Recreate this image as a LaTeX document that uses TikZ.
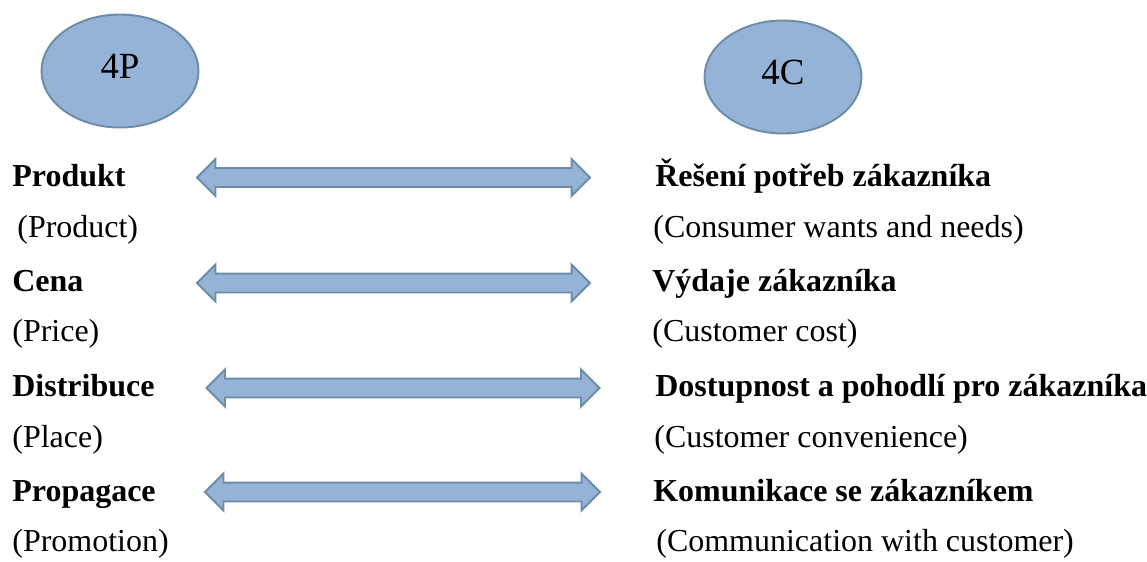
\documentclass[tikz,border=0pt]{standalone}
\usepackage{fontspec}
\setmainfont{Liberation Serif}
\usepackage{xcolor}
\usepackage{tikz}
\usetikzlibrary{shapes,shapes.geometric,shapes.arrows,positioning}

\definecolor{shapefill}{HTML}{95B3D7}
\definecolor{shapeedge}{HTML}{6C8CA8}

\begin{document}
\begin{tikzpicture}[
    oval/.style={ellipse, draw=shapeedge, fill=shapefill, line width=1.1pt, minimum width=3.14cm, minimum height=2.26cm, inner sep=0pt, text depth=0.2cm, font=\fontsize{21}{24}\selectfont},
    dblarrow/.style={double arrow, draw=shapeedge, fill=shapefill, line width=1.1pt, minimum height=7.86cm, minimum width=0.7cm, inner xsep=0pt, inner ysep=0.17cm, double arrow head extend=0.18cm},
    term/.style={anchor=base west, inner sep=0pt, font=\fontsize{18.2}{22}\selectfont\bfseries},
    gloss/.style={anchor=base west, inner sep=0pt, font=\fontsize{18.2}{22}\selectfont}
]
\useasboundingbox (0,0) rectangle (22.94,-11.22);

% Headings
\node[oval] (fourp) at (2.40,-1.42) {4P};
\node[oval] (fourc) at (15.66,-1.54) {4C};

% 4P column
\node[term] (prod) at (0.24,-3.72) {Produkt};
\node[gloss] (prodE) at (0.34,-4.74) {(Product)};
\node[term] (price) at (0.24,-5.82) {Cena};
\node[gloss] (priceE) at (0.24,-6.82) {(Price)};
\node[term] (place) at (0.24,-7.92) {Distribuce};
\node[gloss] (placeE) at (0.24,-8.94) {(Place)};
\node[term] (promo) at (0.24,-10.02) {Propagace};
\node[gloss] (promoE) at (0.24,-11.02) {(Promotion)};

% 4C column
\node[term] (needs) at (13.10,-3.72) {Řešení potřeb zákazníka};
\node[gloss] (needsE) at (13.06,-4.74) {(Consumer wants and needs)};
\node[term] (cost) at (13.04,-5.82) {Výdaje zákazníka};
\node[gloss] (costE) at (13.04,-6.82) {(Customer cost)};
\node[term] (conv) at (13.10,-7.92) {Dostupnost a pohodlí pro zákazníka};
\node[gloss] (convE) at (13.08,-8.94) {(Customer convenience)};
\node[term] (comm) at (13.06,-10.02) {Komunikace se zákazníkem};
\node[gloss] (commE) at (13.12,-11.02) {(Communication with customer)};

% Double arrows
\node[dblarrow] (a1) at (7.87,-3.55) {};
\node[dblarrow] (a2) at (7.87,-5.66) {};
\node[dblarrow] (a3) at (8.06,-7.76) {};
\node[dblarrow, minimum height=7.90cm] (a4) at (8.05,-9.84) {};

\end{tikzpicture}
\end{document}
